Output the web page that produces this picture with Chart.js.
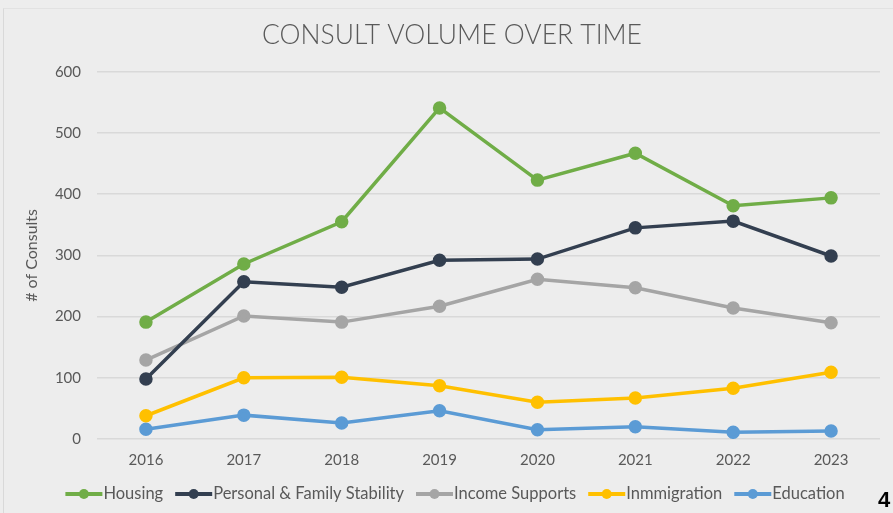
<!DOCTYPE html>
<html>
<head>
<meta charset="utf-8">
<script src="https://cdn.jsdelivr.net/npm/chart.js@4.4.1/dist/chart.umd.min.js"></script>
<style>
  html, body { margin: 0; padding: 0; background: #ededed; }
  #wrap { position: relative; width: 893px; height: 513px; overflow: hidden; }
  #card { position: absolute; left: 3px; top: 8px; width: 1000px; height: 600px;
          border-left: 1px solid #d9d9d9; border-top: 1px solid #e2e2e2; }
  #page { position: absolute; left: 878px; top: 487px; font: bold 22px "Liberation Sans", Arial, sans-serif; color: #000; }
  canvas { position: absolute; left: 0; top: 0; }
</style>
</head>
<body>
<div id="wrap">
  <div id="card"></div>
  <canvas id="consultChart" width="893" height="513"></canvas>
  <div id="page">4</div>
</div>
<script>
const years = ['2016', '2017', '2018', '2019', '2020', '2021', '2022', '2023'];

const housing     = [191, 286, 355, 541, 423, 467, 381, 394];
const personal    = [98, 257, 248, 292, 294, 345, 356, 299];
const income      = [129, 201, 191, 217, 261, 247, 214, 190];
const immigration = [38, 100, 101, 87, 60, 67, 83, 109];
const education   = [16, 39, 26, 46, 15, 20, 11, 13];

const seriesNames = ['Housing', 'Personal & Family Stability', 'Income Supports', 'Inmmigration', 'Education'];
const seriesColors = ['#70ad47', '#333f50', '#a5a5a5', '#ffc000', '#5b9bd5'];
const seriesData = [housing, personal, income, immigration, education];

const textColor = '#595959';
Chart.defaults.font.family = 'Lato, "Open Sans", sans-serif';
Chart.defaults.color = textColor;

// legend drawn by hand: a short line with a dot, then the label
const lineLegend = {
    id: 'lineLegend',
    afterLayout(chart) {
        // nudge the title so it sits centred like the original
        if (chart.titleBlock) chart.titleBlock.left += 24;
    },
    afterDraw(chart) {
        const ctx = chart.ctx;
        const y = 494;
        const markW = 37, markGap = 1, itemGap = 12;
        ctx.save();
        ctx.font = '16.5px Lato, "Open Sans", sans-serif';
        ctx.textBaseline = 'middle';
        const widths = chart.data.datasets.map(d => ctx.measureText(d.label).width);
        let total = 0;
        widths.forEach(w => total += markW + markGap + w);
        total += itemGap * (widths.length - 1);
        let x = 455 - total / 2;
        chart.data.datasets.forEach((d, i) => {
            ctx.strokeStyle = d.borderColor;
            ctx.lineWidth = 4;
            ctx.beginPath();
            ctx.moveTo(x, y);
            ctx.lineTo(x + markW, y);
            ctx.stroke();
            ctx.fillStyle = d.borderColor;
            ctx.beginPath();
            ctx.arc(x + markW / 2, y, 5, 0, Math.PI * 2);
            ctx.fill();
            x += markW + markGap;
            ctx.fillStyle = textColor;
            ctx.fillText(d.label, x, y);
            x += widths[i] + itemGap;
        });
        ctx.restore();
    }
};

const ctx = document.getElementById('consultChart').getContext('2d');
const chart = new Chart(ctx, {
    type: 'line',
    data: {
        labels: years,
        datasets: seriesNames.map((name, i) => ({
            label: name,
            data: seriesData[i],
            borderColor: seriesColors[i],
            backgroundColor: seriesColors[i],
            borderWidth: 3.5,
            pointRadius: 5,
            pointHoverRadius: 5,
            fill: false,
            tension: 0
        }))
    },
    options: {
        responsive: false,
        animation: false,
        layout: { padding: { left: 0, right: 13, top: 8, bottom: 0 } },
        plugins: {
            legend: { display: false },
            tooltip: { enabled: false },
            title: {
                display: true,
                text: 'CONSULT VOLUME OVER TIME',
                color: textColor,
                font: { size: 26.5, weight: '300' },
                padding: { top: 12, bottom: 20 }
            }
        },
        scales: {
            x: {
                offset: true,
                grid: { display: false, drawTicks: false },
                border: { display: false },
                ticks: { padding: 12, font: { size: 15 }, color: textColor },
                afterFit(scale) { scale.height = 74; }
            },
            y: {
                min: 0,
                max: 600,
                ticks: { stepSize: 100, padding: 16, font: { size: 15 }, color: textColor },
                grid: { color: '#d9d9d9', lineWidth: 1.5, drawTicks: false },
                border: { display: false },
                title: {
                    display: true,
                    text: '# of Consults',
                    color: textColor,
                    font: { size: 16 },
                    padding: { top: 22, bottom: 0 }
                },
                afterFit(scale) { scale.width = 97; }
            }
        }
    },
    plugins: [lineLegend]
});
</script>
</body>
</html>
